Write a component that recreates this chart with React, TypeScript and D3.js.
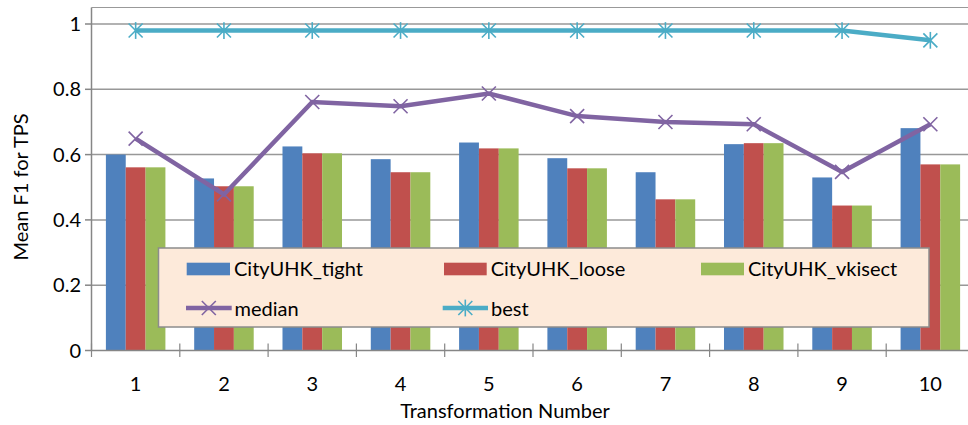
import React from "react";
import * as d3 from "d3";

const categories = ["1", "2", "3", "4", "5", "6", "7", "8", "9", "10"];
const tight = [0.600, 0.527, 0.625, 0.586, 0.637, 0.589, 0.546, 0.632, 0.530, 0.681];
const loose = [0.561, 0.503, 0.604, 0.546, 0.619, 0.558, 0.463, 0.635, 0.444, 0.570];
const vkisect = [0.561, 0.503, 0.604, 0.546, 0.619, 0.558, 0.463, 0.635, 0.444, 0.570];
const median = [0.649, 0.478, 0.761, 0.748, 0.787, 0.718, 0.700, 0.693, 0.547, 0.693];
const best = [0.98, 0.98, 0.98, 0.98, 0.98, 0.98, 0.98, 0.98, 0.98, 0.95];
const yTicks = [0, 0.2, 0.4, 0.6, 0.8, 1];
const barSeries = [
  { name: "CityUHK_tight", values: tight, color: "#4F81BD" },
  { name: "CityUHK_loose", values: loose, color: "#C0504D" },
  { name: "CityUHK_vkisect", values: vkisect, color: "#9BBB59" },
];

const FONT = "Lato, 'Open Sans', sans-serif";
const FS = 20;

function XMark({ x, y, s, color }: { x: number; y: number; s: number; color: string }) {
  return (
    <g stroke={color} strokeWidth={1.6}>
      <line x1={x - s} y1={y - s} x2={x + s} y2={y + s} />
      <line x1={x - s} y1={y + s} x2={x + s} y2={y - s} />
    </g>
  );
}
function Star({ x, y, s, color }: { x: number; y: number; s: number; color: string }) {
  return (
    <g stroke={color} strokeWidth={1.6}>
      <line x1={x - s} y1={y - s} x2={x + s} y2={y + s} />
      <line x1={x - s} y1={y + s} x2={x + s} y2={y - s} />
      <line x1={x} y1={y - s * 1.2} x2={x} y2={y + s * 1.2} />
    </g>
  );
}

export default function App() {
  const W = 968, H = 425;
  const left = 91.5, right = 974.5;
  const y = d3.scaleLinear().domain([0, 1]).range([350.5, 24]);
  const x = d3.scaleBand().domain(categories).range([left, right]).paddingInner(0.326).paddingOuter(0.163);
  const bw = x.bandwidth() / 3;
  const cx = (c: string) => (x(c) as number) + x.bandwidth() / 2;
  const catStep = (right - left) / categories.length;
  const line = d3.line<number>().x((_, i) => cx(categories[i])).y((d) => y(d));

  return (
    <svg width={W} height={H} style={{ position: "absolute", left: 0, top: 0 }}>
      <rect width={W} height={H} fill="#fff" />
      <line x1={left} x2={W} y1={7.5} y2={7.5} stroke="#999" strokeWidth={1.2} />
      {yTicks.slice(1).map((t) => (
        <line key={t} x1={left} x2={W} y1={y(t)} y2={y(t)} stroke="#989898" strokeWidth={1.5} />
      ))}
      {barSeries.map((s, si) =>
        s.values.map((v, i) => (
          <rect key={s.name + i} x={(x(categories[i]) as number) + si * bw} y={y(v)} width={bw} height={y(0) - y(v)} fill={s.color} />
        ))
      )}
      <line x1={left} x2={left} y1={7.5} y2={y(0)} stroke="#868686" strokeWidth={1.5} />
      <line x1={left} x2={W} y1={y(0)} y2={y(0)} stroke="#868686" strokeWidth={1.5} />
      {yTicks.map((t) => (
        <line key={"yt" + t} x1={85} x2={left} y1={y(t)} y2={y(t)} stroke="#868686" strokeWidth={1.5} />
      ))}
      {d3.range(categories.length + 1).map((i) => (
        <line key={"xt" + i} x1={left + i * catStep} x2={left + i * catStep} y1={343.5} y2={357} stroke="#868686" strokeWidth={1.2} />
      ))}
      <path d={line(best) as string} fill="none" stroke="#4BACC6" strokeWidth={4.5} />
      {best.map((v, i) => (
        <Star key={"b" + i} x={cx(categories[i])} y={y(v)} s={7} color="#4BACC6" />
      ))}
      <path d={line(median) as string} fill="none" stroke="#8064A2" strokeWidth={4.5} />
      {median.map((v, i) => (
        <XMark key={"m" + i} x={cx(categories[i])} y={y(v)} s={7} color="#8064A2" />
      ))}
      {yTicks.map((t) => (
        <text key={"yl" + t} x={81} y={y(t)} dy="0.35em" textAnchor="end" fontFamily={FONT} fontSize={FS} fill="#000">
          {String(t)}
        </text>
      ))}
      {categories.map((c) => (
        <text key={"xl" + c} x={cx(c)} y={384} dy="0.35em" textAnchor="middle" fontFamily={FONT} fontSize={FS} fill="#000">
          {c}
        </text>
      ))}
      <text x={505} y={411} dy="0.35em" textAnchor="middle" fontFamily={FONT} fontSize={FS} fill="#000">
        Transformation Number
      </text>
      <text transform={`translate(21,187) rotate(-90)`} dy="0.35em" textAnchor="middle" fontFamily={FONT} fontSize={FS} fill="#000">
        Mean F1 for TPS
      </text>
      <rect x={158.5} y={248} width={770.5} height={79} fill="#FDEADA" stroke="#8c8c8c" strokeWidth={1.5} />
      {[{ x0: 186.7, x1: 230 }, { x0: 444, x1: 486.7 }, { x0: 701, x1: 744 }].map((p, i) => (
        <g key={"lg" + i}>
          <rect x={p.x0} y={262.7} width={p.x1 - p.x0} height={12.6} fill={barSeries[i].color} />
          <text x={p.x1 + 4} y={268.5} dy="0.35em" fontFamily={FONT} fontSize={FS} fill="#000">
            {barSeries[i].name}
          </text>
        </g>
      ))}
      <line x1={186} x2={231.7} y1={308} y2={308} stroke="#8064A2" strokeWidth={4.5} />
      <XMark x={208.8} y={308} s={7} color="#8064A2" />
      <text x={234.5} y={308.5} dy="0.35em" fontFamily={FONT} fontSize={FS} fill="#000">median</text>
      <line x1={442.7} x2={488} y1={308} y2={308} stroke="#4BACC6" strokeWidth={4.5} />
      <Star x={465.3} y={308} s={7} color="#4BACC6" />
      <text x={491} y={308.5} dy="0.35em" fontFamily={FONT} fontSize={FS} fill="#000">best</text>
    </svg>
  );
}
